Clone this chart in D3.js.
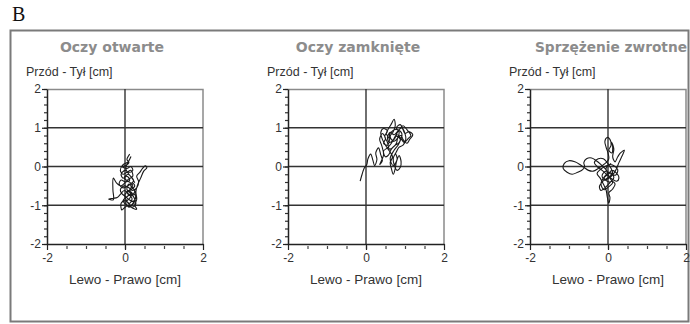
<!DOCTYPE html>
<html>
<head>
<meta charset="utf-8">
<script src="https://cdn.jsdelivr.net/npm/d3@7"></script>
<style>
	body { margin: 0; background: #fff; }
	svg { display: block; }
	.title { font-family: "DejaVu Sans", sans-serif; font-weight: bold; font-size: 14px; fill: #8c8c8c; }
	.ylabel { font-family: "Liberation Sans", Arial, sans-serif; font-size: 12.5px; fill: #333; }
	.xlabel { font-family: "Liberation Sans", Arial, sans-serif; font-size: 13.5px; fill: #333; }
	.tick text { font-family: "Liberation Sans", Arial, sans-serif; font-size: 12px; fill: #333; }
</style>
</head>
<body>
<div class="container"></div>
<script>

const titles = ["Oczy otwarte", "Oczy zamknięte", "Sprzężenie zwrotne"];
const yAxisTitle = "Przód - Tył [cm]";
const xAxisTitle = "Lewo - Prawo [cm]";
const panelLetter = "B";

const yTickLabels = [-2, -1, 0, 1, 2];
const xTickLabels = [-2, 0, 2];
const gridValues = [-1, 0, 1];

// sway paths [left-right, front-back] in cm
const eyesOpen = [
	[0.12,0.32],[0.05,0.18],[0.1,0.1],[0.0,0.02],[-0.08,0.0],[0.05,-0.05],[0.15,0.0],[0.2,-0.1],
	[0.1,-0.15],[0.0,-0.1],[-0.1,-0.2],[-0.05,-0.3],[0.05,-0.25],[0.12,-0.35],[0.02,-0.4],[-0.1,-0.35],
	[-0.15,-0.45],[-0.05,-0.55],[0.08,-0.5],[0.18,-0.42],[0.25,-0.5],[0.15,-0.6],[0.05,-0.65],[0.12,-0.75],
	[0.22,-0.7],[0.28,-0.8],[0.2,-0.9],[0.1,-0.85],[0.02,-0.78],[-0.08,-0.7],[-0.12,-0.6],[-0.02,-0.5],
	[0.1,-0.55],[0.2,-0.62],[0.3,-0.55],[0.35,-0.4],[0.3,-0.25],[0.38,-0.15],[0.45,-0.05],[0.52,0.02],
	[0.56,-0.03],[0.48,-0.12],[0.4,-0.3],[0.32,-0.48],[0.28,-0.65],[0.3,-0.85],[0.25,-1.0],[0.3,-1.1],
	[0.2,-1.08],[0.1,-1.0],[0.0,-1.05],[-0.08,-1.12],[-0.1,-0.95],[0.0,-0.88],[0.12,-0.95],[0.18,-0.82],
	[0.08,-0.7],[-0.02,-0.62],[-0.12,-0.72],[-0.2,-0.8],[-0.3,-0.82],[-0.42,-0.84],[-0.3,-0.86],[-0.31,-0.6],
	[-0.3,-0.3],[-0.22,-0.42],[-0.1,-0.5],[0.0,-0.42],[0.1,-0.32],[0.2,-0.25],[0.15,-0.1],[0.05,-0.15],
	[-0.05,-0.2],[-0.12,-0.1],[-0.05,0.05],[0.08,0.12],[0.15,0.25],[0.1,0.15],[0.02,-0.05],[0.1,-0.2],
	[0.22,-0.35],[0.15,-0.5],[0.25,-0.62],[0.18,-0.75],[0.1,-0.65],[0.0,-0.72],[0.05,-0.9],[0.15,-1.0],
	[0.22,-0.92],[0.28,-0.72],[0.2,-0.55],[0.1,-0.45],[0.05,-0.6],[0.18,-0.68],[0.12,-0.82],[0.02,-0.92],
	[0.1,-1.05],[0.2,-0.98],[0.25,-0.85],[0.15,-0.72],[0.05,-0.78],[-0.05,-0.88],[0.05,-1.0],[0.18,-1.05],
	[0.28,-0.95],[0.22,-0.78],[0.12,-0.6],[0.2,-0.48],[0.08,-0.38],[-0.02,-0.3],[0.08,-0.2],[0.18,-0.3],
	[0.25,-0.42]
];

const eyesClosed = [
	[-0.15,-0.38],[-0.1,-0.2],[-0.05,-0.05],[0.02,0.05],[0.05,0.2],[0.12,0.32],[0.18,0.15],[0.22,0.02],
	[0.28,0.18],[0.25,0.35],[0.32,0.48],[0.38,0.3],[0.42,0.15],[0.35,0.05],[0.45,0.3],[0.4,0.55],
	[0.35,0.7],[0.42,0.85],[0.5,0.72],[0.45,0.6],[0.55,0.55],[0.6,0.7],[0.52,0.85],[0.58,0.98],
	[0.65,1.1],[0.72,1.22],[0.75,1.05],[0.7,0.9],[0.62,0.78],[0.7,0.65],[0.8,0.72],[0.85,0.88],
	[0.78,1.0],[0.88,1.08],[0.95,0.95],[1.0,0.85],[1.1,0.9],[1.2,0.82],[1.12,0.7],[1.05,0.6],
	[0.95,0.7],[0.9,0.8],[0.82,0.75],[0.78,0.6],[0.7,0.5],[0.6,0.45],[0.55,0.62],[0.48,0.78],
	[0.55,0.92],[0.45,0.98],[0.38,0.88],[0.42,0.7],[0.5,0.55],[0.6,0.4],[0.68,0.25],[0.62,0.1],
	[0.65,-0.05],[0.7,-0.2],[0.75,-0.05],[0.78,0.12],[0.85,0.28],[0.9,0.12],[0.88,-0.02],[0.8,-0.1],
	[0.72,0.05],[0.7,0.22],[0.78,0.38],[0.85,0.5],[0.95,0.55],[1.02,0.7],[1.0,0.85],[0.92,1.0],
	[0.82,0.92],[0.72,0.82],[0.62,0.88],[0.55,0.75],[0.6,0.62],[0.72,0.7],[0.8,0.82],[0.9,0.72],
	[0.98,0.62],[1.08,0.72],[1.15,0.8],[1.05,0.95],[0.95,1.05],[0.85,0.95],[0.75,0.78],[0.65,0.6],
	[0.55,0.48],[0.45,0.4],[0.5,0.25],[0.58,0.3],[0.65,0.45],[0.75,0.55],[0.85,0.62],[0.92,0.85],
	[0.8,0.95],[0.68,0.92],[0.6,0.78],[0.68,0.68],[0.78,0.78],[0.88,0.7],[0.82,0.55],[0.72,0.42],
	[0.62,0.2],[0.7,0.02],[0.8,0.2],[0.75,0.35]
];

const feedback = [
	[0.0,-0.15],[-0.08,-0.05],[-0.18,0.05],[-0.3,0.15],[-0.42,0.22],[-0.55,0.2],[-0.62,0.1],[-0.6,0.0],
	[-0.65,-0.08],[-0.78,-0.15],[-0.92,-0.2],[-1.05,-0.15],[-1.15,-0.05],[-1.12,0.08],[-1.0,0.15],[-0.85,0.12],
	[-0.72,0.05],[-0.62,-0.02],[-0.5,-0.1],[-0.38,-0.12],[-0.25,-0.05],[-0.15,0.02],[-0.05,0.1],[0.02,0.2],
	[0.0,0.35],[-0.05,0.5],[-0.08,0.65],[-0.02,0.75],[0.05,0.7],[0.08,0.55],[0.02,0.42],[0.1,0.35],
	[0.12,0.5],[0.1,0.62],[0.15,0.45],[0.12,0.25],[0.18,0.12],[0.25,0.25],[0.32,0.35],[0.42,0.42],
	[0.35,0.25],[0.28,0.1],[0.22,-0.05],[0.15,-0.18],[0.05,-0.25],[-0.05,-0.32],[-0.15,-0.4],[-0.22,-0.52],
	[-0.18,-0.62],[-0.08,-0.55],[0.02,-0.45],[0.1,-0.38],[0.18,-0.45],[0.12,-0.58],[0.02,-0.68],[0.05,-0.8],
	[0.02,-0.95],[-0.02,-0.78],[-0.05,-0.6],[-0.12,-0.45],[-0.2,-0.3],[-0.28,-0.18],[-0.2,-0.08],[-0.08,0.0],
	[0.05,0.05],[0.15,0.02],[0.25,-0.08],[0.2,-0.22],[0.08,-0.2],[-0.05,-0.12],[-0.15,-0.22],[-0.1,-0.35],
	[0.02,-0.3],[0.12,-0.2],[0.08,-0.05],[-0.02,0.1],[-0.12,0.2],[-0.25,0.2],[-0.35,0.1],[-0.28,0.0],
	[-0.15,-0.1],[-0.02,-0.22],[0.1,-0.32],[0.22,-0.38],[0.28,-0.3],[0.2,-0.15],[0.1,-0.1],[0.0,-0.2],
	[-0.1,-0.3],[0.05,-0.4],[0.15,-0.28],[0.05,-0.15],[-0.08,-0.25],[-0.18,-0.45],[-0.1,-0.6],[0.02,-0.52],
	[0.12,-0.42],[0.05,-0.3],[-0.05,-0.05],[0.08,0.08]
];

const paths = [eyesOpen, eyesClosed, feedback];

const size = { width: 690, height: 324 };
const plot = { top: 89, width: 156, height: 155, lefts: [47, 288, 530], titleShift: [-13, -8, 3] };

const svg = d3.select(".container")
	.append("svg")
		.attr("width", size.width)
		.attr("height", size.height);

svg.append("text")
	.text(panelLetter)
	.attr("x", 12)
	.attr("y", 21)
	.style("font-family", "'Liberation Serif', 'Times New Roman', serif")
	.style("font-size", "20px")
	.style("fill", "#111");

svg.append("rect")
	.attr("x", 10.5)
	.attr("y", 30.5)
	.attr("width", 678)
	.attr("height", 291)
	.attr("fill", "none")
	.attr("stroke", "#7a7a7a")
	.attr("stroke-width", 2);

const x = d3.scaleLinear().domain([-2, 2]).range([0, plot.width]);
const y = d3.scaleLinear().domain([-2, 2]).range([plot.height, 0]);

const line = d3.line()
	.x(d => x(d[0]))
	.y(d => y(d[1]))
	.curve(d3.curveCatmullRom.alpha(0.5));

const plainNumber = d => String(d);

titles.forEach((title, i) => {

	const g = svg.append("g")
		.attr("transform", `translate(${ plot.lefts[i] }, ${ plot.top })`);

	const titleText = g.append("text")
		.attr("class", "title")
		.attr("x", x(0) + plot.titleShift[i])
		.attr("y", -37)
		.attr("text-anchor", "middle")
		.text(title);

	// squeeze a title that would run past the right edge
	const room = 2 * (size.width - 3 - plot.lefts[i] - x(0) - plot.titleShift[i]);
	if (titleText.node().getComputedTextLength() > room) {
		titleText.attr("textLength", room).attr("lengthAdjust", "spacingAndGlyphs");
	}

	g.append("text")
		.attr("class", "ylabel")
		.attr("x", -21)
		.attr("y", -13)
		.text(yAxisTitle);

	// frame top and right
	g.append("path")
		.attr("d", `M0,0.5H${ plot.width }V${ plot.height }`)
		.attr("fill", "none")
		.attr("stroke", "#8a8a8a")
		.attr("stroke-width", 1.5);

	g.selectAll("line.hgrid")
		.data(gridValues)
		.enter()
		.append("line")
			.attr("class", "hgrid")
			.attr("x1", 0)
			.attr("x2", plot.width)
			.attr("y1", d => y(d))
			.attr("y2", d => y(d))
			.attr("stroke", "#333")
			.attr("stroke-width", 1.4);

	g.append("line")
		.attr("x1", x(0))
		.attr("x2", x(0))
		.attr("y1", 0)
		.attr("y2", plot.height)
		.attr("stroke", "#333")
		.attr("stroke-width", 1.4);

	// y axis
	const yMinor = g.append("g")
		.call(d3.axisLeft(y).tickValues(d3.range(-2, 2.01, 0.2)).tickSize(3).tickFormat(""));
	yMinor.select(".domain").remove();
	yMinor.selectAll("line").attr("stroke", "#333").attr("stroke-width", 1.2);

	const yAxis = g.append("g")
		.call(d3.axisLeft(y).tickValues(yTickLabels).tickSize(5).tickPadding(1).tickSizeOuter(0).tickFormat(plainNumber));
	yAxis.select(".domain").attr("stroke", "#222").attr("stroke-width", 1.5);
	yAxis.selectAll("line").attr("stroke", "#222").attr("stroke-width", 1.2);

	// x axis
	const xMinor = g.append("g")
		.attr("transform", `translate(0, ${ plot.height + 2 })`)
		.call(d3.axisBottom(x).tickValues(d3.range(-1.5, 1.51, 0.5)).tickSize(3).tickFormat(""));
	xMinor.select(".domain").remove();
	xMinor.selectAll("line").attr("stroke", "#444").attr("stroke-width", 1.2);

	const xAxis = g.append("g")
		.attr("transform", `translate(0, ${ plot.height })`)
		.call(d3.axisBottom(x).tickValues(xTickLabels).tickSize(6).tickPadding(3).tickSizeOuter(0).tickFormat(plainNumber));
	xAxis.select(".domain").attr("stroke", "#222").attr("stroke-width", 1.5);
	xAxis.selectAll("line").attr("stroke", "#222").attr("stroke-width", 1.2);

	g.append("text")
		.attr("class", "xlabel")
		.attr("x", x(0))
		.attr("y", plot.height + 40)
		.attr("text-anchor", "middle")
		.text(xAxisTitle);

	g.append("path")
		.datum(paths[i])
		.attr("d", line)
		.attr("fill", "none")
		.attr("stroke", "#1a1a1a")
		.attr("stroke-width", 1.1)
		.attr("stroke-linejoin", "round");
});

</script>
</body>
</html>
